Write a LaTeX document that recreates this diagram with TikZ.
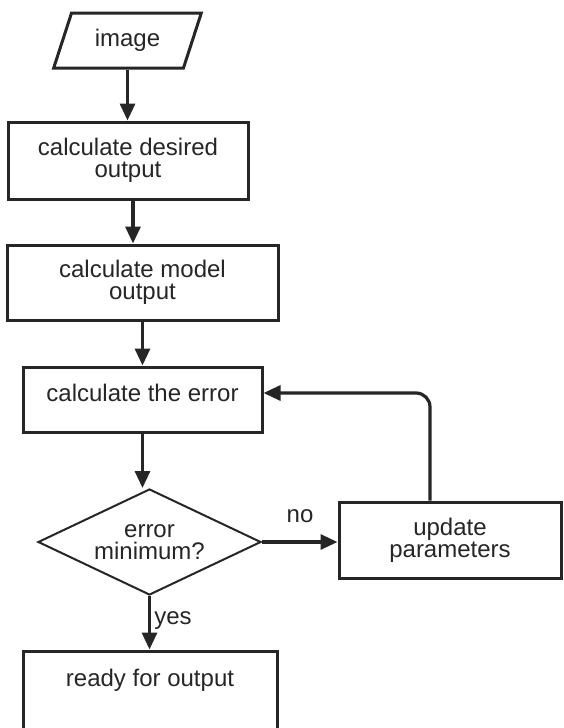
\documentclass[tikz,border=0pt]{standalone}
\usepackage{fontspec}
\setmainfont{Liberation Sans}
\usetikzlibrary{shapes.geometric,arrows.meta}

\begin{document}
\begin{tikzpicture}[x=1pt,y=-1pt,
  every node/.style={font=\fontsize{24}{22}\selectfont, text=black!85, align=center},
  box/.style={draw=black!85, line width=3pt, inner sep=0pt},
  inout/.style={draw=black!85, line width=3pt, trapezium, trapezium left angle=65, trapezium right angle=115, trapezium stretches=true, inner sep=0pt},
  decision/.style={draw=black!85, line width=2pt, diamond, aspect=2.1, inner sep=0pt},
  flow/.style={draw=black!85, line width=3.2pt, -{Triangle[length=17pt,width=15pt]}}]
\useasboundingbox (0,0) rectangle (563,728);
\fill[white] (0,0) rectangle (563,728);
\clip (0,0) rectangle (563,728);

\node[inout, minimum width=149pt, minimum height=55pt] (img) at (127.5,40.5) {image};
\node[box, minimum width=240pt, minimum height=77pt] (desired) at (128,160.5) {calculate desired\\output};
\node[box, minimum width=271pt, minimum height=75pt] (model) at (142.5,282.5) {calculate model\\output};
\node[box, minimum width=239pt, minimum height=65pt, text depth=13pt] (err) at (142.5,399.5) {calculate the error};
\node[decision, minimum width=223pt, minimum height=106pt] (mini) at (149.5,542) {error\\minimum?};
\node[box, minimum width=222pt, minimum height=76pt] (update) at (450,540) {update\\parameters};
\node[box, minimum width=254pt, minimum height=120pt, text height=17pt, text depth=66pt] (ready) at (150,711) {ready for output};
\node (nolbl) at (300,516) {no};
\node (yeslbl) at (173,621) {yes};

\draw[flow] (img.south) -- (img.south |- desired.north);
\draw[flow] ([xshift=5pt]desired.south) -- ([xshift=5pt]desired.south |- model.north);
\draw[flow] (model.south) -- (model.south |- err.north);
\draw[flow] (err.south) -- (err.south |- mini.north);
\draw[flow] (mini.east) -- (mini.east -| update.west);
\draw[flow] (mini.south) -- (mini.south |- ready.north);
\draw[flow, rounded corners=14pt] ([xshift=-20pt]update.north) |- ([yshift=6.5pt]err.east);
\end{tikzpicture}
\end{document}
